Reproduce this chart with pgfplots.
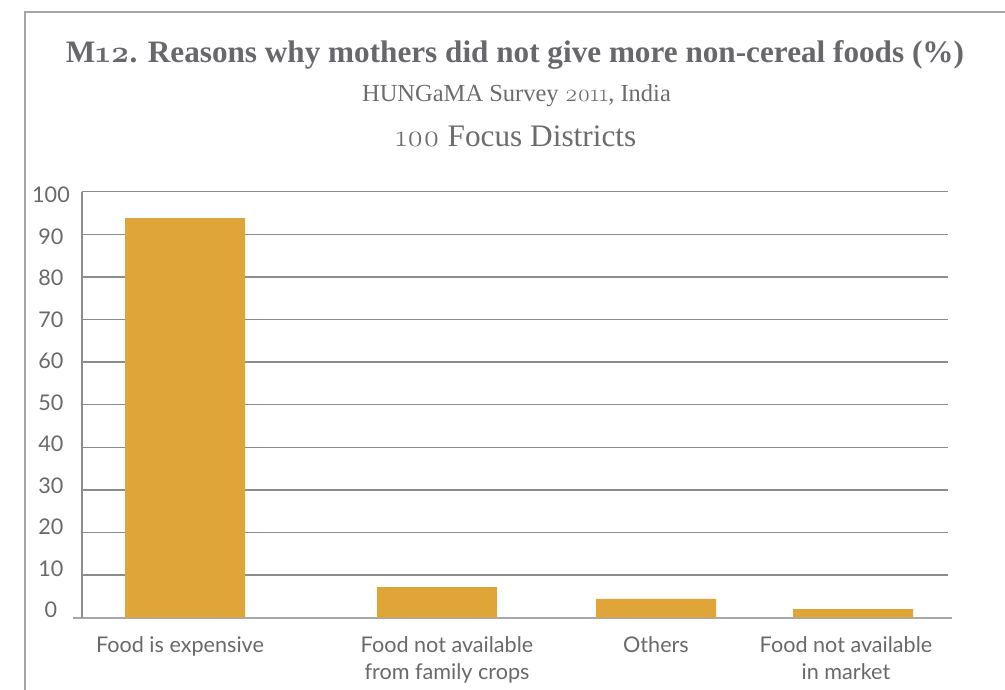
\documentclass[border=0pt]{standalone}
\usepackage{fontspec}
\usepackage{pgfplots}
\pgfplotsset{compat=1.18}
\setmainfont{Liberation Serif}
\newfontfamily\labfont{Lato}
\newfontfamily\osf{Latin Modern Roman}[Numbers=OldStyle]
\definecolor{titlegray}{RGB}{103,103,108}
\definecolor{subgray}{RGB}{108,108,110}
\definecolor{bargold}{RGB}{223,165,56}
\definecolor{gridgray}{RGB}{140,140,140}
\definecolor{basegray}{RGB}{168,168,170}
\definecolor{labgray}{RGB}{105,105,105}
\definecolor{framegray}{RGB}{165,165,165}
\begin{document}
\begin{tikzpicture}[x=1pt,y=1pt]
\path[use as bounding box] (0,0) rectangle (1005,-690);
\draw[framegray, line width=1.5pt] (25,-700) -- (25,-12) -- (1010,-12);
\node[anchor=base, text=titlegray, inner sep=0pt, font=\fontsize{31.2}{36}\selectfont\bfseries] at (515,-63)
  {M{\osf 12}. Reasons why mothers did not give more non-cereal foods (\%)};
\node[anchor=base, text=subgray, inner sep=0pt, font=\fontsize{24.5}{30}\selectfont] at (516.5,-102)
  {HUNGaMA Survey {\osf 2011}, India};
\node[anchor=base, text=subgray, inner sep=0pt, font=\fontsize{31.3}{36}\selectfont] at (516,-147)
  {{\osf 100} Focus Districts};
\begin{axis}[
  at={(82pt,-617.7pt)}, anchor=south west,
  scale only axis, width=866pt, height=426pt,
  xmin=82, xmax=948, ymin=0, ymax=100,
  clip=false,
  axis lines*=left,
  axis line style={gridgray, line width=1.4pt},
  x axis line style={basegray, line width=1.8pt, shorten <=-9pt, shorten >=-4pt},
  ymajorgrids,
  grid style={gridgray, line width=1.4pt},
  ytick={0,10,...,100},
  ytick style={gridgray, line width=1.4pt},
  major tick length=18pt,
  xtick={180,447,656,846},
  xtick style={draw=none},
  xticklabels={{Food is expensive},{Food not available\\from family crops},{Others},{Food not available\\in market}},
  /pgf/number format/assume math mode=true,
  ticklabel style={font=\labfont\fontsize{21.6}{27}\selectfont, text=labgray},
  yticklabel style={anchor=center, inner sep=0pt, xshift=-31pt, yshift={(70-\tick)*0.11}},
  xticklabel style={anchor=north, align=center, inner sep=0pt, yshift=-18.5pt},
]
\addplot[ybar, bar width=120, fill=bargold, draw=none] coordinates {(185,93.8) (437,7.2) (656,4.4) (853,2.0)};
\end{axis}
\end{tikzpicture}
\end{document}
